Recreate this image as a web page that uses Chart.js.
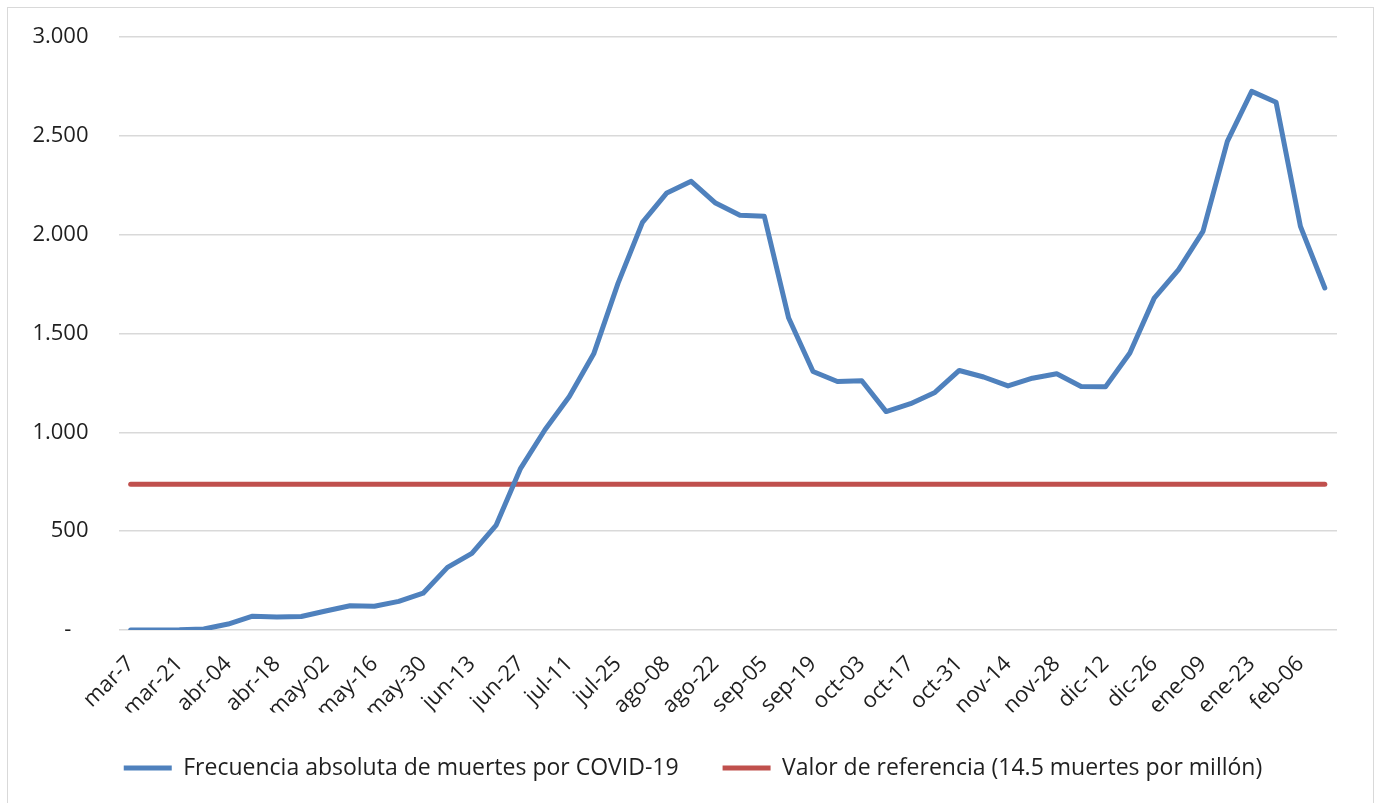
<!DOCTYPE html>
<html>
<head>
<meta charset="utf-8">
<script src="https://cdn.jsdelivr.net/npm/chart.js@4.4.1/dist/chart.umd.min.js"></script>
<style>
  html, body { margin: 0; background: #fff; overflow: hidden; width: 1382px; height: 803px; }
  #frame { position: absolute; left: 7px; top: 7px; width: 1367px; height: 820px; border: 1.5px solid #d9d9d9; box-sizing: border-box; }
  #wrap { position: absolute; left: 0; top: 0; width: 1382px; height: 803px; }
</style>
</head>
<body>
<div id="frame"></div>
<div id="wrap"><canvas id="chart"></canvas></div>
<script>
// semanas (sabado) de mar-2020 a feb-2021
const weeks = [
  "mar-7", "mar-14", "mar-21", "mar-28", "abr-04", "abr-11", "abr-18", "abr-25",
  "may-02", "may-09", "may-16", "may-23", "may-30", "jun-06", "jun-13", "jun-20",
  "jun-27", "jul-04", "jul-11", "jul-18", "jul-25", "ago-01", "ago-08", "ago-15",
  "ago-22", "ago-29", "sep-05", "sep-12", "sep-19", "sep-26", "oct-03", "oct-10",
  "oct-17", "oct-24", "oct-31", "nov-07", "nov-14", "nov-21", "nov-28", "dic-05",
  "dic-12", "dic-19", "dic-26", "ene-02", "ene-09", "ene-16", "ene-23", "ene-30",
  "feb-06", "feb-13"
];

const deaths = [
  0, 0, 1, 5, 30, 70, 66, 68, 96, 123,
  120, 145, 186, 317, 388, 531, 818, 1013, 1181, 1397,
  1755, 2062, 2211, 2270, 2160, 2098, 2093, 1578, 1308, 1257,
  1261, 1105, 1145, 1202, 1313, 1280, 1235, 1274, 1296, 1232,
  1230, 1401, 1679, 1823, 2017, 2472, 2725, 2670, 2042, 1730
];

const refValue = 737;
const reference = weeks.map(() => refValue);

const yTicks = [0, 500, 1000, 1500, 2000, 2500, 3000];

const FONT = "'Open Sans', 'Noto Sans', sans-serif";
const TEXT = "#1f1f1f";

function fmt(v) {
  if (v === 0) return "-\u00a0\u00a0\u00a0";
  return String(v).replace(/\B(?=(\d{3})+(?!\d))/g, ".");
}

// the y labels hang out left of the (narrow) axis box, so widen its clip area
const yLabelRoom = {
  id: "yLabelRoom",
  afterLayout(chart) {
    chart.scales.y.left = 0;
  }
};

const ctx = document.getElementById("chart").getContext("2d");
new Chart(ctx, {
  type: "line",
  data: {
    labels: weeks,
    datasets: [
      {
        label: "Frecuencia absoluta de muertes por COVID-19",
        data: deaths,
        borderColor: "#4f81bd",
        backgroundColor: "#4f81bd",
        borderWidth: 5,
        borderCapStyle: "round",
        borderJoinStyle: "round",
        pointRadius: 0,
        tension: 0
      },
      {
        label: "Valor de referencia (14.5 muertes por millón)",
        data: reference,
        borderColor: "#c0504d",
        backgroundColor: "#c0504d",
        borderWidth: 5,
        borderCapStyle: "round",
        pointRadius: 0,
        tension: 0
      }
    ]
  },
  plugins: [yLabelRoom],
  options: {
    responsive: true,
    maintainAspectRatio: false,
    animation: false,
    layout: { padding: { top: 37, right: 45, left: 49, bottom: 13.5 } },
    plugins: {
      tooltip: { enabled: false },
      legend: {
        position: "bottom",
        labels: {
          usePointStyle: true,
          pointStyle: "line",
          pointStyleWidth: 48,
          padding: 44,
          color: TEXT,
          font: { family: FONT, size: 23 }
        }
      }
    },
    scales: {
      x: {
        offset: true,
        grid: { display: false, drawTicks: false },
        border: { display: false },
        afterFit: scale => { scale.height = 82.5; },
        ticks: {
          autoSkip: false,
          minRotation: 45,
          maxRotation: 45,
          padding: 21,
          color: TEXT,
          font: { family: FONT, size: 22 },
          callback: function(value, index) {
            return index % 2 === 0 ? this.getLabelForValue(value) : "";
          }
        }
      },
      y: {
        min: 0,
        max: 3000,
        afterFit: scale => {
          scale.width = 69.5;
          scale.paddingTop = 0;
          scale.paddingBottom = 0;
        },
        afterBuildTicks: scale => { scale.ticks = yTicks.map(v => ({ value: v })); },
        grid: { color: "#d9d9d9", lineWidth: 1.5, drawTicks: false },
        border: { display: false },
        ticks: {
          padding: 30,
          color: TEXT,
          font: { family: FONT, size: 22 },
          callback: v => fmt(v)
        }
      }
    }
  }
});
</script>
</body>
</html>
